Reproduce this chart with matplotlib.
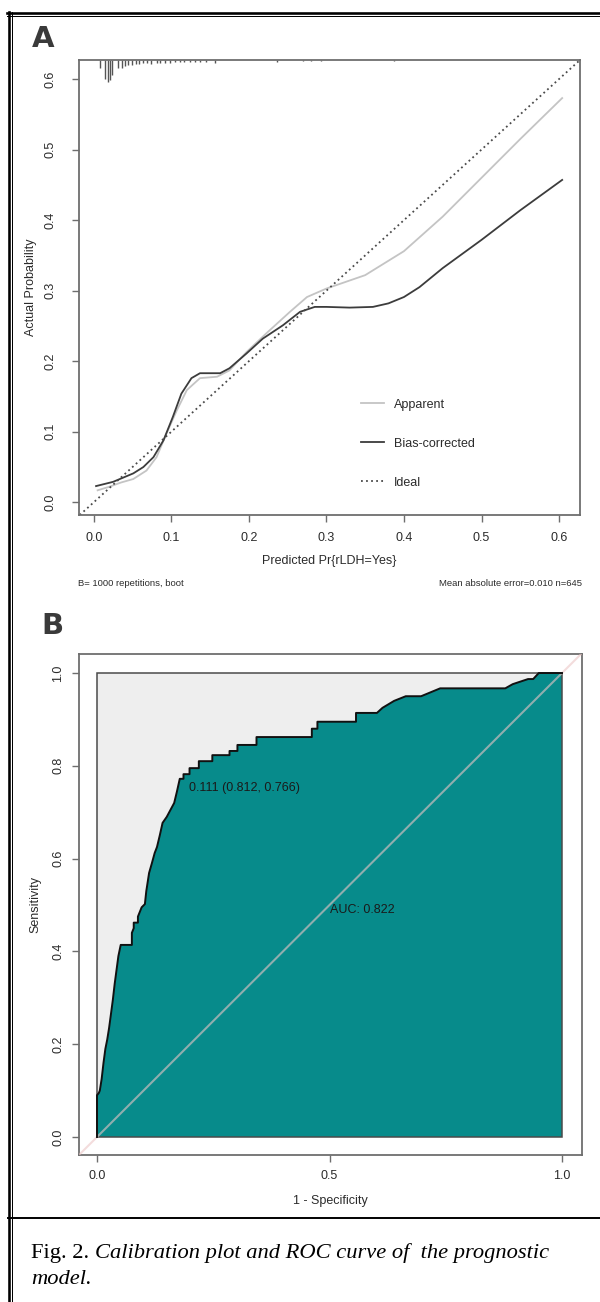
import numpy as np
import matplotlib
matplotlib.use('Agg')
import matplotlib.pyplot as plt
from matplotlib.lines import Line2D
from matplotlib.patches import Rectangle

plt.rcParams['font.family'] = ['Liberation Sans', 'DejaVu Sans']

# --- panel A: calibration data ---
app_x = [0.005, 0.020, 0.035, 0.051, 0.068, 0.081, 0.094, 0.107, 0.120, 0.137, 0.159, 0.175,
         0.197, 0.223, 0.253, 0.275, 0.300, 0.350, 0.400, 0.450, 0.500, 0.550, 0.604]
app_y = [0.017, 0.022, 0.028, 0.033, 0.045, 0.064, 0.098, 0.130, 0.159, 0.176, 0.178, 0.187,
         0.213, 0.240, 0.270, 0.291, 0.303, 0.322, 0.356, 0.405, 0.460, 0.515, 0.573]
bc_x = [0.003, 0.025, 0.051, 0.064, 0.077, 0.090, 0.102, 0.113, 0.126, 0.137, 0.150, 0.163, 0.175,
        0.197, 0.218, 0.244, 0.266, 0.285, 0.300, 0.330, 0.360, 0.380, 0.400, 0.420, 0.450, 0.500,
        0.550, 0.604]
bc_y = [0.023, 0.029, 0.041, 0.050, 0.064, 0.088, 0.121, 0.154, 0.176, 0.183, 0.183, 0.183, 0.190,
        0.211, 0.232, 0.251, 0.270, 0.277, 0.277, 0.276, 0.277, 0.282, 0.291, 0.305, 0.332, 0.372,
        0.414, 0.457]
# spike histogram of predicted probabilities (top of panel A)
spike_x = [0.008, 0.015, 0.018, 0.021, 0.024, 0.031, 0.036, 0.040, 0.044, 0.049, 0.054, 0.059,
           0.064, 0.069, 0.074, 0.081, 0.085, 0.092, 0.098, 0.105, 0.111, 0.117, 0.124, 0.130,
           0.137, 0.145, 0.156, 0.236, 0.270, 0.280, 0.293, 0.387]
spike_n = [8, 19, 22, 20, 15, 8, 8, 6, 5, 5, 4, 4, 3, 3, 4, 3, 3, 3, 3, 2, 2, 2, 2, 2, 2, 2, 3,
           2, 1.5, 1.5, 1, 1]
cal_ticks = [0.0, 0.1, 0.2, 0.3, 0.4, 0.5, 0.6]

# --- panel B: ROC data ---
roc_fpr = [0.000, 0.000, 0.004, 0.006, 0.010, 0.014, 0.018, 0.022, 0.026, 0.030, 0.034, 0.038,
           0.042, 0.046, 0.051, 0.075, 0.075, 0.079, 0.079, 0.088, 0.088, 0.092, 0.096, 0.103,
           0.106, 0.112, 0.118, 0.124, 0.129, 0.135, 0.141, 0.150, 0.158, 0.166, 0.172, 0.178,
           0.186, 0.186, 0.199, 0.199, 0.219, 0.219, 0.248, 0.248, 0.285, 0.285, 0.302, 0.302,
           0.343, 0.343, 0.462, 0.462, 0.474, 0.474, 0.557, 0.557, 0.602, 0.614, 0.639, 0.664,
           0.697, 0.738, 0.878, 0.894, 0.927, 0.938, 0.950, 1.000]
roc_tpr = [0.000, 0.090, 0.095, 0.100, 0.125, 0.160, 0.190, 0.210, 0.235, 0.265, 0.295, 0.330,
           0.360, 0.390, 0.414, 0.414, 0.440, 0.450, 0.462, 0.462, 0.475, 0.485, 0.495, 0.502,
           0.530, 0.569, 0.590, 0.612, 0.625, 0.650, 0.677, 0.690, 0.705, 0.720, 0.745, 0.772,
           0.772, 0.782, 0.782, 0.795, 0.795, 0.810, 0.810, 0.823, 0.823, 0.832, 0.832, 0.845,
           0.845, 0.862, 0.862, 0.880, 0.880, 0.895, 0.895, 0.914, 0.914, 0.925, 0.940, 0.950,
           0.950, 0.967, 0.967, 0.976, 0.987, 0.987, 1.000, 1.000]
best_thr = 0.111
best_spec = 0.812
best_sens = 0.766
auc = 0.822

W, H = 600, 1302
fig = plt.figure(figsize=(W / 100, H / 100), dpi=100)
fig.patch.set_facecolor('white')


def fx(px):
    return px / W


def fy(py):
    return 1 - py / H


txt = '#2b2b2b'
boxc = '#6e6e6e'
fs = 9

# ---------------- panel A ----------------
axA = fig.add_axes([fx(79), fy(515), fx(501), 455 / H])
axA.plot(app_x, app_y, color='#c4c4c4', lw=1.3, label='Apparent')
axA.plot(bc_x, bc_y, color='#3c3c3c', lw=1.3, label='Bias-corrected')
axA.axline((0, 0), (1, 1), color='#4a4a4a', lw=1.3, ls=(0, (1, 1.8)), label='Ideal')
sc = 0.048 / max(spike_n)
axA.vlines(spike_x, [1 - n * sc for n in spike_n], 1, transform=axA.get_xaxis_transform(),
           color='#555555', lw=1.0)
axA.set_xlim(-0.019, 0.627)
axA.set_ylim(-0.018, 0.627)
axA.set_xticks(cal_ticks)
axA.set_yticks(cal_ticks)
axA.set_xticklabels([f'{t:.1f}' for t in cal_ticks])
axA.set_yticklabels([f'{t:.1f}' for t in cal_ticks], rotation=90, va='center')
axA.tick_params(direction='out', length=5, width=1, color=boxc, labelsize=fs,
                labelcolor=txt, top=False, right=False)
axA.tick_params(axis='x', pad=7)
axA.tick_params(axis='y', pad=11)
for s in axA.spines.values():
    s.set_color(boxc)
    s.set_linewidth(1.3)
axA.set_xlabel('Predicted Pr{rLDH=Yes}', fontsize=fs, color=txt)
axA.set_ylabel('Actual Probability', fontsize=fs, color=txt)
axA.xaxis.set_label_coords(0.5, -0.088)
axA.yaxis.set_label_coords(-0.084, 0.5)
axA.legend(loc='upper left', bbox_to_anchor=(0.54, 0.28), frameon=False, fontsize=fs,
           handlelength=1.84, handletextpad=0.8, labelspacing=2.16, labelcolor=txt)
fig.text(fx(78), fy(584), 'B= 1000 repetitions, boot', fontsize=6.8, color=txt,
         ha='left', va='center')
fig.text(fx(582), fy(584), 'Mean absolute error=0.010 n=645', fontsize=6.8, color=txt,
         ha='right', va='center')
fig.text(fx(43), fy(39), 'A', fontsize=21, fontweight='bold', color='#3a3a3a',
         ha='center', va='center', family='DejaVu Sans')

# ---------------- panel B ----------------
axB = fig.add_axes([fx(79), fy(1155), fx(503), 501 / H])
axB.add_patch(Rectangle((0, 0), 1, 1, facecolor='#eeeeee', edgecolor='none', zorder=1))
axB.fill(list(roc_fpr) + [1.0, 0.0], list(roc_tpr) + [0.0, 0.0], color='#078b8b',
         lw=0, zorder=2)
axB.add_patch(Rectangle((0, 0), 1, 1, facecolor='none', edgecolor='#4a4a4a', lw=1.1,
                        zorder=3))
axB.axline((0, 0), (1, 1), color='#ecc6c6', lw=1.5, alpha=0.6, zorder=4)
axB.plot(roc_fpr, roc_tpr, color='#111111', lw=1.4, zorder=5)
axB.text(1 - best_spec + 0.01, best_sens - 0.014,
         f'{best_thr:.3f} ({best_spec:.3f}, {best_sens:.3f})',
         fontsize=fs, color='#1a1a1a', ha='left', va='center', zorder=6)
axB.text(0.5, 0.49, f'AUC: {auc:.3f}', fontsize=fs, color='#1a1a1a', ha='left',
         va='center', zorder=6)
axB.set_xlim(-0.0387, 1.043)
axB.set_ylim(-0.0388, 1.041)
xt = [0.0, 0.5, 1.0]
yt = [0.0, 0.2, 0.4, 0.6, 0.8, 1.0]
axB.set_xticks(xt)
axB.set_yticks(yt)
axB.set_xticklabels([f'{t:.1f}' for t in xt])
axB.set_yticklabels([f'{t:.1f}' for t in yt], rotation=90, va='center')
axB.tick_params(direction='out', length=5, width=1, color=boxc, labelsize=fs,
                labelcolor=txt, top=False, right=False)
axB.tick_params(axis='x', pad=6)
axB.tick_params(axis='y', pad=5.5)
for s in axB.spines.values():
    s.set_color(boxc)
    s.set_linewidth(1.3)
axB.set_xlabel('1 - Specificity', fontsize=fs, color=txt)
axB.set_ylabel('Sensitivity', fontsize=fs, color=txt)
axB.xaxis.set_label_coords(0.5, -0.08)
axB.yaxis.set_label_coords(-0.0755, 0.5)
fig.text(fx(52), fy(626), 'B', fontsize=21, fontweight='bold', color='#3a3a3a',
         ha='center', va='center', family='DejaVu Sans')

# ---------------- frame and caption ----------------
for x, lw in [(8.5, 2.6), (12, 1.0)]:
    fig.add_artist(Line2D([fx(x), fx(x)], [fy(12), 0], color='black', lw=lw * 0.72))
for y, lw in [(12.8, 2.6), (15.8, 1.0)]:
    fig.add_artist(Line2D([fx(7), 1], [fy(y), fy(y)], color='black', lw=lw * 0.72))
fig.add_artist(Line2D([fx(8), 1], [fy(1218), fy(1218)], color='black', lw=1.4))

cap1 = fig.text(fx(31), fy(1258), 'Fig. 2. ', fontsize=16.2, family='Liberation Serif',
                ha='left', va='baseline', color='black')
r = fig.canvas.get_renderer()
bb = cap1.get_window_extent(renderer=r)
fig.text(bb.x1 / W, fy(1258), 'Calibration plot and ROC curve of  the prognostic',
         fontsize=16.2, family='Liberation Serif', style='italic', ha='left',
         va='baseline', color='black')
fig.text(fx(31), fy(1284), 'model.', fontsize=16.2, family='Liberation Serif',
         style='italic', ha='left', va='baseline', color='black')

fig.savefig('out.png', dpi=100)
